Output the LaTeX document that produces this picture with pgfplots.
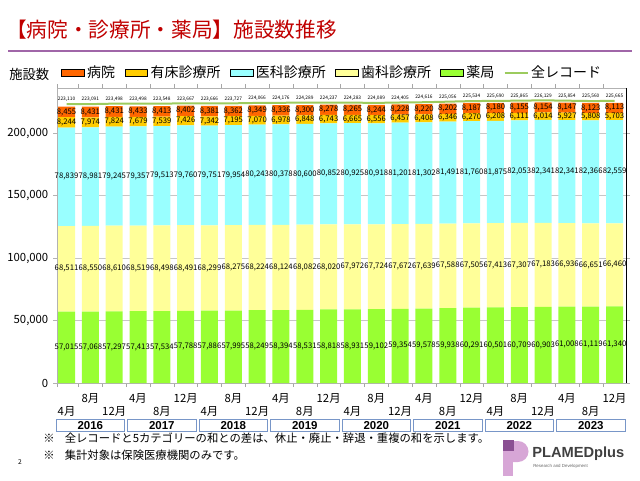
\documentclass[border=0pt]{standalone}
\usepackage{pgfplots}
\pgfplotsset{compat=1.18}
\usepackage{pgfplotstable}
\usepackage{fontspec}
\setmainfont{Noto Sans CJK JP}
\newfontfamily\logofont{Liberation Sans}
\definecolor{hosp}{HTML}{FF6600}
\definecolor{bed}{HTML}{FFCC00}
\definecolor{med}{HTML}{99FFFF}
\definecolor{dent}{HTML}{FFFF99}
\definecolor{pharm}{HTML}{99FF33}
\definecolor{lineg}{HTML}{9CCB5E}
\definecolor{titlered}{HTML}{C00000}
\definecolor{ulpurple}{HTML}{A066A8}
\definecolor{boxblue}{HTML}{7896C8}
\definecolor{logodark}{HTML}{8A4F92}
\definecolor{logolight}{HTML}{D7A6D6}

\pgfplotstableread{
x pharm dental med bed hosp total
0 57015 68511 78839 8244 8455 223110
1 57068 68550 78981 7974 8431 223091
2 57297 68610 79245 7824 8431 223498
3 57413 68519 79357 7679 8433 223498
4 57534 68498 79513 7539 8413 223548
5 57788 68491 79760 7426 8402 223667
6 57886 68299 79751 7342 8381 223666
7 57995 68275 79954 7195 8362 223727
8 58249 68224 80243 7070 8349 224066
9 58394 68124 80378 6978 8336 224176
10 58531 68082 80600 6848 8300 224289
11 58818 68020 80852 6743 8278 224237
12 58931 67972 80925 6665 8265 224283
13 59102 67724 80918 6556 8244 224089
14 59354 67672 81201 6457 8228 224405
15 59578 67639 81302 6408 8220 224616
16 59938 67588 81491 6346 8202 225056
17 60291 67505 81760 6270 8187 225534
18 60501 67413 81875 6208 8180 225690
19 60709 67307 82053 6111 8155 225865
20 60903 67183 82341 6014 8154 226129
21 61008 66936 82341 5927 8147 225854
22 61119 66651 82366 5808 8123 225560
23 61340 66460 82559 5703 8113 225665
}\data

\newcommand{\up}[1]{\strut #1\\\strut}
\newcommand{\dn}[1]{\strut\\\strut #1}
\newcommand{\numfmt}{\pgfmathprintnumber[fixed,precision=0,1000 sep={,},assume math mode=true]{\pgfplotspointmeta}}

\begin{document}
\begin{tikzpicture}
\pgfplotsset{
  common/.style={
    at={(42.75pt,72.75pt)}, anchor=south west, scale only axis,
    width=426.75pt, height=221.25pt,
    xmin=-0.4, xmax=23.48, ymin=0, ymax=236000,
  },
  lbl/.style={draw=none, mark=none, forget plot, point meta=explicit,
    nodes near coords={\numfmt},
    every node near coord/.append style={anchor=center, inner sep=0pt,
      font=\fontsize{5.8}{7}\selectfont, text=black}},
}
\begin{axis}[common,
  ybar stacked, bar width=12.75pt,
  clip=false,
  axis line style={draw=gray!60},
  ymajorgrids, grid style={gray!45},
  ytick={0,50000,100000,150000,200000},
  scaled y ticks=false,
  yticklabel style={font=\fontsize{8.5}{10}\selectfont,
     /pgf/number format/fixed, /pgf/number format/1000 sep={,},
     /pgf/number format/assume math mode=true},
  y tick style={gray!60}, tick align=outside, major tick length=3pt,
  minor tick length=3pt,
  xtick={0,...,23},
  minor xtick={-0.4,0.5,1.5,...,22.5},
  major x tick style={draw=none},
  minor x tick style={draw=gray!70},
  xticklabel style={align=center, font=\fontsize{8.5}{9.75}\selectfont, yshift=-1.5pt},
  xticklabels={{\dn{4月}},{\up{8月}},{\dn{12月}},{\up{4月}},{\dn{8月}},{\up{12月}},
               {\dn{4月}},{\up{8月}},{\dn{12月}},{\up{4月}},{\dn{8月}},{\up{12月}},
               {\dn{4月}},{\up{8月}},{\dn{12月}},{\up{4月}},{\dn{8月}},{\up{12月}},
               {\dn{4月}},{\up{8月}},{\dn{12月}},{\up{4月}},{\dn{8月}},{\up{12月}}},
]
\addplot[fill=pharm, draw=none] table[x=x,y=pharm]{\data};
\addplot[fill=dent, draw=none] table[x=x,y=dental]{\data};
\addplot[fill=med, draw=none] table[x=x,y=med]{\data};
\addplot[fill=bed, draw=none] table[x=x,y=bed]{\data};
\addplot[fill=hosp, draw=none] table[x=x,y=hosp]{\data};
\draw[black, line width=0.7pt] (rel axis cs:1,0) -- (rel axis cs:1,1);
\end{axis}
\begin{axis}[common, hide axis, clip=false,
  legend style={at={(0.0,1.051)}, anchor=west, draw=none, fill=none,
     font=\fontsize{10.5}{12}\selectfont, legend columns=6,
     /tikz/every even column/.append style={column sep=5pt}},
  legend cell align=left,
]
\addplot[lbl] table[x=x, y expr=\thisrow{pharm}/2, meta=pharm]{\data};
\addplot[lbl] table[x=x, y expr=\thisrow{pharm}+\thisrow{dental}/2, meta=dental]{\data};
\addplot[lbl] table[x=x, y expr=\thisrow{pharm}+\thisrow{dental}+\thisrow{med}/2, meta=med]{\data};
\addplot[lbl] table[x=x, y expr=\thisrow{pharm}+\thisrow{dental}+\thisrow{med}+\thisrow{bed}/2, meta=bed]{\data};
\addplot[lbl] table[x=x, y expr=\thisrow{pharm}+\thisrow{dental}+\thisrow{med}+\thisrow{bed}+\thisrow{hosp}/2, meta=hosp]{\data};
\addlegendimage{area legend, fill=hosp, draw=none}
\addlegendentry{病院}
\addlegendimage{area legend, fill=bed, draw=none}
\addlegendentry{有床診療所}
\addlegendimage{area legend, fill=med, draw=none}
\addlegendentry{医科診療所}
\addlegendimage{area legend, fill=dent, draw=none}
\addlegendentry{歯科診療所}
\addlegendimage{area legend, fill=pharm, draw=none}
\addlegendentry{薬局}
\addplot[lineg, line width=1.5pt, mark=none, point meta=explicit,
  nodes near coords={\numfmt},
  every node near coord/.append style={anchor=south, inner sep=1pt,
     font=\fontsize{3.6}{4}\selectfont, text=black}]
  table[x=x,y=total,meta=total]{\data};
\addlegendentry{全レコード}
\end{axis}
\begin{scope}[x=0.75pt,y=-0.75pt,yshift=360pt]
\node[anchor=west, inner sep=0pt, text=titlered, font=\fontsize{15.5}{17}\selectfont] at (6,30) {【病院・診療所・薬局】施設数推移};
\draw[ulpurple, line width=1.6pt] (8,51) -- (632,51);
\node[anchor=west, inner sep=0pt, font=\fontsize{10}{12}\selectfont] at (9,74) {施設数};
% year boxes
\foreach \k/\yr in {0/2016,1/2017,2/2018,3/2019,4/2020,5/2021,6/2022,7/2023}{
  \draw[boxblue, line width=0.7pt, fill=white]
    ({57+(3*\k-0.1)*23.83+1.5},419) rectangle ({57+(3*\k+2.9)*23.83-1.5},431.5);
  \node[inner sep=0pt, font=\logofont\bfseries\fontsize{8.6}{9}\selectfont]
    at ({57+(3*\k+1.4)*23.83},425.3) {\yr};
}
\node[anchor=west, inner sep=0pt, font=\fontsize{8.5}{10}\selectfont] at (43,438) {※\hspace{0.9em}全レコードと5カテゴリーの和との差は、休止・廃止・辞退・重複の和を示します。};
\node[anchor=west, inner sep=0pt, font=\fontsize{8.5}{10}\selectfont] at (43,455) {※\hspace{0.9em}集計対象は保険医療機関のみです。};
\node[inner sep=0pt, font=\fontsize{5}{6}\selectfont] at (20,462) {2};
\fill[logolight] (503,450) rectangle (513,476);
\fill[logolight] (511,441) -- (518,441) arc[start angle=-90, end angle=90, radius=10.5] -- (511,462) -- cycle;
\fill[logodark] (503,440) rectangle (514,451);
\node[anchor=west, inner sep=0pt, text=black!75, font=\logofont\bfseries\fontsize{11}{12}\selectfont] at (532,454) {PLAMEDplus};
\node[anchor=west, inner sep=0pt, text=black!60, font=\logofont\fontsize{3.3}{4}\selectfont] at (533,466) {Research and Development};
\end{scope}
\pgfresetboundingbox
\useasboundingbox (0,0) rectangle (480pt,360pt);
\end{tikzpicture}
\end{document}
